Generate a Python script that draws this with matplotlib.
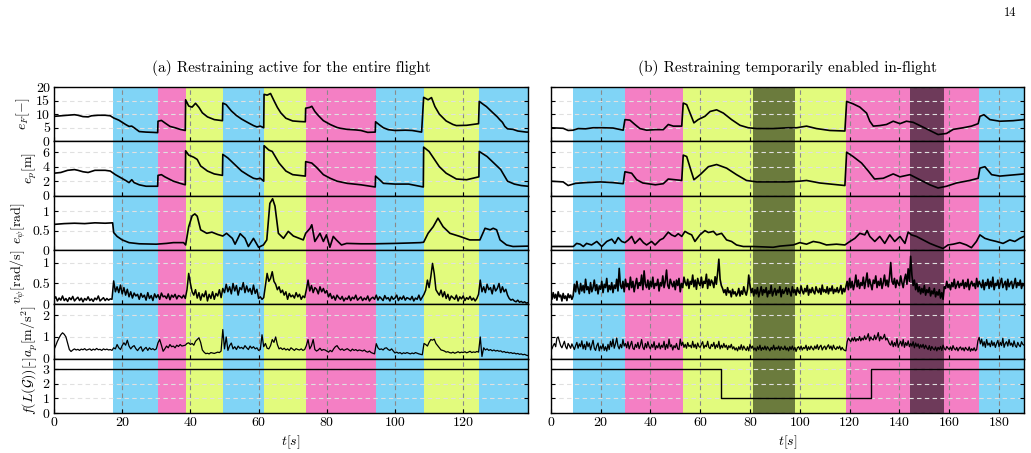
"""Restraining experiment: error, velocity and connectivity traces for two flights."""

import numpy as np
import matplotlib.pyplot as plt

plt.rcParams["font.family"] = "serif"
plt.rcParams["font.serif"] = ["cmr10"]
plt.rcParams["mathtext.fontset"] = "cm"
plt.rcParams["axes.formatter.use_mathtext"] = True
plt.rcParams["axes.unicode_minus"] = False

CYAN = "#80d4f6"
PINK = "#f47fc4"
YELLOW = "#e2fb7d"
OLIVE = "#6b7b3d"
PURPLE = "#6e3a5a"

# ---- flight (a) ------------------------------------------------------------
leftBandEdges = [0, 17.2, 30.5, 38.6, 49.5, 61.6, 73.8, 94.3, 108.4, 124.7, 139]
leftBandColors = ["white", CYAN, PINK, YELLOW, CYAN, YELLOW, PINK, CYAN, YELLOW, CYAN]

leftErrFT = [0, 2, 4, 6, 7, 8.5, 10, 11, 13, 15, 16.5, 17.5, 19, 20, 21, 22, 22.8, 23.5, 25, 27, 29, 30.4,
             30.5, 31.5, 32.5, 34, 35.5, 37, 38.5, 38.6, 39.5, 40.5, 41.5, 42.5, 43.5, 45, 47, 49.4,
             49.5, 50.5, 52, 53.5, 55, 57, 58.5, 59.5, 60.5, 61.5, 61.6, 62.5, 63.5, 64.5, 65.5, 66.5,
             68, 70, 72, 73.7, 73.8, 75, 75.6, 76.5, 77.5, 79, 81, 83, 84, 86, 88.5, 90, 92, 94.2, 94.3,
             95.5, 96.6, 98, 100, 103, 105, 107.8, 108.4, 109.7, 110.7, 111.7, 113, 115, 117, 118, 121,
             124.5, 124.7, 126, 126.8, 128.8, 130, 130.7, 131.5, 132.2, 133, 134.6, 136, 138.5, 139]
leftErrF = [9.2, 9.4, 9.6, 9.8, 9.6, 9.1, 9.0, 9.4, 9.6, 9.6, 9.4, 8.6, 7.8, 7.0, 6.2, 5.5, 5.6, 5.0, 3.6, 3.4,
            3.3, 3.2, 7.4, 7.7, 6.8, 5.5, 5.0, 4.4, 4.0, 15.3, 13.0, 12.6, 14.0, 12.5, 10.5, 9.0, 8.0, 7.6,
            14.1, 13.5, 11.2, 9.5, 8.2, 6.8, 5.8, 5.3, 5.6, 5.0, 17.3, 17.0, 17.6, 15.0, 12.5, 10.5, 8.5,
            7.5, 7.3, 7.2, 12.2, 12.5, 12.9, 11.0, 9.5, 7.6, 6.2, 5.1, 4.8, 4.4, 4.2, 4.0, 3.3, 3.4, 7.2,
            6.0, 5.0, 4.3, 4.0, 4.1, 4.0, 3.4, 16.2, 15.3, 16.1, 12.8, 10.0, 7.5, 6.2, 5.8, 5.9, 6.5, 14.7,
            13.5, 12.8, 10.4, 9.0, 8.0, 7.0, 5.5, 4.6, 4.4, 3.8, 3.4, 3.4]

leftErrPT = [0, 2, 4, 6, 7, 8.5, 10, 12, 15, 16.5, 18, 19.5, 21, 22, 22.8, 23.5, 25, 27, 30.4, 30.5, 31.5,
             32.5, 35, 37, 38.5, 38.6, 39.5, 41, 42, 43, 45, 47, 49.4, 49.5, 51, 53, 55, 57, 58.5, 59.5,
             60.5, 61.5, 61.6, 63, 64, 65, 66, 68, 70, 73.7, 73.8, 75.6, 77, 79, 81, 83, 86, 90, 94.2,
             94.3, 95.5, 96.6, 100, 104, 108.3, 108.4, 110, 111, 113, 115, 118, 121, 124.6, 124.7, 127,
             129, 131, 132.5, 133, 135, 137, 139]
leftErrP = [3.1, 3.2, 3.5, 3.6, 3.5, 3.3, 3.2, 3.5, 3.5, 3.4, 2.9, 2.5, 2.1, 1.8, 2.2, 1.8, 1.5, 1.3, 1.3,
            2.8, 2.9, 2.6, 2.0, 1.7, 1.5, 6.2, 5.6, 5.3, 5.0, 4.1, 3.4, 3.0, 2.8, 5.7, 5.2, 4.3, 3.4, 2.8,
            2.4, 2.3, 2.4, 2.0, 6.9, 6.3, 6.1, 5.3, 4.5, 3.4, 2.9, 2.7, 4.7, 4.5, 3.9, 2.9, 2.4, 2.0, 1.7,
            1.5, 1.2, 2.7, 2.2, 1.7, 1.6, 1.6, 1.2, 6.7, 6.1, 5.4, 4.0, 3.1, 2.3, 2.2, 2.6, 6.1, 5.4, 4.5,
            3.6, 2.4, 2.0, 1.6, 1.4, 1.3]

leftErrPsiT = [0, 3, 6, 9, 12, 15, 17.2, 17.5, 18.5, 20, 22, 25, 30, 33, 35, 38, 38.6, 39.5, 40.5, 41.3,
               42, 43, 44.8, 46.3, 48, 49.5, 50.6, 52.3, 53.1, 54.6, 56, 57, 58.5, 60, 61.4, 62.4, 63.3,
               64.1, 64.8, 65.8, 67.3, 68.7, 70.2, 73.1, 73.8, 75.1, 75.6, 76.5, 78, 79, 79.9, 80.9, 81.9,
               82.8, 84.3, 85.8, 90, 94, 100, 104, 107.4, 108.4, 109.7, 111.2, 112.6, 114.1, 116.1, 119,
               121.9, 124.9, 126.4, 127.9, 128.8, 129.8, 130.8, 132.7, 134.6, 139]
leftErrPsi = [0.66, 0.68, 0.69, 0.68, 0.70, 0.69, 0.70, 0.45, 0.35, 0.26, 0.19, 0.16, 0.15, 0.17, 0.19,
              0.19, 0.13, 0.60, 0.88, 0.93, 0.87, 0.52, 0.43, 0.46, 0.40, 0.36, 0.43, 0.30, 0.15, 0.42,
              0.30, 0.09, 0.30, 0.07, 0.13, 0.26, 1.20, 1.32, 1.13, 0.43, 0.30, 0.48, 0.36, 0.26, 0.43,
              0.56, 0.65, 0.22, 0.43, 0.22, 0.39, 0.07, 0.35, 0.26, 0.13, 0.17, 0.16, 0.16, 0.17, 0.18,
              0.19, 0.20, 0.43, 0.60, 0.82, 0.60, 0.43, 0.35, 0.26, 0.26, 0.56, 0.52, 0.56, 0.52, 0.26,
              0.13, 0.09, 0.10]

# sampled every 0.5 s
leftVelPsi = [.12, .18, .08, .15, .10, .20, .09, .14, .07, .16, .11, .19, .08, .13, .17, .09, .15, .06, .14, .10,
              .18, .09, .13, .07, .15, .11, .20, .08, .12, .16, .09, .14, .10, .13, .12, .56, .30, .42, .28, .46,
              .25, .40, .22, .36, .18, .30, .15, .27, .20, .24, .12, .26, .17, .22, .10, .28, .14, .21, .09, .25,
              .16, .23, .12, .27, .18, .20, .14, .25, .11, .22, .17, .24, .13, .21, .19, .15, .22, .14, .35, .74,
              .50, .30, .22, .35, .15, .28, .10, .25, .18, .32, .08, .24, .14, .30, .12, .26, .20, .35, .16, .38,
              .28, .48, .30, .42, .25, .50, .32, .45, .22, .40, .35, .52, .28, .44, .30, .38, .24, .46, .26, .36,
              .14, .18, .12, .16, .45, .74, .55, .62, .78, .55, .48, .35, .42, .28, .34, .22, .30, .12, .26, .18,
              .22, .15, .28, .18, .24, .12, .20, .16, .35, .58, .32, .45, .28, .40, .36, .25, .42, .30, .38, .27,
              .33, .18, .26, .14, .20, .10, .22, .16, .12, .19, .08, .15, .12, .20, .09, .17, .13, .22, .10, .14,
              .18, .09, .15, .11, .20, .08, .14, .17, .12, .22, .10, .18, .14, .09, .21, .13, .16, .08, .19, .12,
              .15, .22, .09, .17, .12, .20, .10, .16, .14, .11, .19, .08, .15, .12, .22, .10, .17, .24, .34, .58,
              .40, .66, .98, .74, .35, .28, .22, .34, .18, .30, .14, .24, .10, .20, .16, .12, .22, .08, .18, .13,
              .20, .09, .16, .12, .19, .10, .15, .08, .14, .24, .58, .30, .42, .28, .48, .35, .40, .25, .46, .32,
              .38, .50, .28, .42, .30, .36, .22, .14, .10, .12, .08, .06, .10, .05, .07, .04, .06, .03, .04]

leftAccP = [.42, .60, .80, .96, 1.10, 1.19, 1.12, 1.00, .70, .42, .33, .40, .45, .40, .43, .38, .44, .41, .46, .39,
            .42, .45, .38, .44, .40, .47, .41, .43, .38, .45, .41, .44, .40, .42, .38, .50, .45, .65, .50, .42,
            .60, .73, .62, .85, .58, .45, .55, .60, .46, .37, .48, .55, .34, .45, .52, .38, .50, .42, .46, .40,
            .45, .73, .88, .62, .34, .45, .58, .50, .65, .55, .58, .50, .62, .56, .65, .58, .60, .62, .70, .73,
            .65, .70, .62, .80, .88, .96, .75, .40, .30, .23, .25, .22, .28, .26, .24, .27, .30, .28, .35, 1.34,
            .45, 1.00, .38, .60, .72, .45, .55, .42, .58, .48, .52, .45, .60, .50, .42, .58, .48, .55, .45, .50,
            .38, .42, 1.10, .55, .70, .48, .45, .60, .88, .75, 1.00, .65, .45, .50, .42, .48, .40, .45, .38, .50,
            .44, .38, .46, .42, .40, .45, .38, .42, .60, .88, .45, .60, .88, .42, .35, .40, .48, .38, .42, .40,
            .35, .30, .38, .32, .45, .55, .60, .48, .40, .45, .38, .42, .46, .40, .35, .44, .38, .42, .36, .40,
            .38, .35, .40, .33, .30, .35, .28, .25, .22, .69, .50, .42, .45, .40, .48, .50, .42, .38, .45, .35,
            .26, .30, .25, .28, .22, .27, .24, .28, .25, .22, .26, .23, .28, .25, .22, .20, .18, .70, .65, .58,
            .75, .88, .85, .90, .70, .60, .50, .40, .38, .35, .30, .32, .28, .26, .30, .25, .28, .32, .27, .30,
            .28, .32, .27, .30, .34, .28, .31, .29, .33, .30, 1.00, .10, .50, .40, .45, .38, .42, .36, .40, .35,
            .38, .34, .36, .30, .33, .28, .30, .26, .28, .24, .26, .22, .24, .20, .22, .18, .20, .16, .14]

leftGraphT = [0, 139]
leftGraph = [3, 3]

# ---- flight (b) ------------------------------------------------------------
rightBandEdges = [0, 9.1, 29.7, 53.0, 81.1, 98.0, 118.7, 144.4, 157.8, 172.0, 190]
rightBandColors = ["white", CYAN, PINK, YELLOW, OLIVE, YELLOW, PINK, PURPLE, PINK, CYAN]

rightErrFT = [0, 5, 7, 9, 11, 14, 17, 21, 25, 29.1, 29.8, 31.8, 33.8, 35.8, 38.5, 42, 45.2, 47.2, 49.2, 52.6,
              53.2, 54.6, 56.2, 57.5, 59.2, 61.9, 64, 66.6, 69.3, 72.6, 76, 79.3, 82.7, 89.3, 95.4, 98.7,
              102.7, 106.7, 112, 118.1, 118.8, 121.4, 124.1, 126.8, 128.1, 129.5, 132.1, 134.8, 137.5, 140.2,
              142.8, 145.5, 148.2, 152.2, 155.5, 158.9, 161.6, 165.6, 168.9, 171.6, 172.3, 173.9, 176.3,
              180.3, 185.6, 190]
rightErrF = [5.0, 4.8, 4.0, 4.1, 4.7, 4.6, 5.0, 5.0, 4.9, 4.1, 8.0, 7.8, 6.2, 4.7, 4.1, 4.3, 4.3, 6.2, 5.6, 5.6,
             14.1, 13.5, 9.8, 6.8, 8.0, 9.2, 11.0, 11.6, 10.4, 8.0, 5.9, 5.0, 4.7, 4.7, 5.0, 5.0, 5.6, 4.7,
             4.0, 3.8, 14.7, 13.8, 12.6, 10.4, 7.4, 5.6, 5.8, 6.2, 7.4, 6.5, 7.4, 7.0, 5.8, 4.0, 2.5, 2.9,
             4.4, 5.0, 5.6, 6.5, 9.2, 9.8, 8.0, 7.4, 7.6, 8.0]

rightErrPT = [0, 5, 7, 10, 14, 20, 25, 29.1, 29.8, 32.5, 34.5, 37, 42, 45.2, 47.2, 52.6, 53.2, 54.6, 56.2, 57.5,
              60, 63.3, 66.6, 70.6, 74.6, 78.6, 82.7, 95, 100, 102.7, 108, 118.1, 118.8, 121.4, 124.8, 127.5,
              130, 133.5, 137.5, 140.2, 144.2, 148.2, 152.2, 155.5, 158.9, 162.9, 168.2, 171.6, 172.3, 174.3,
              177, 180.3, 190]
rightErrP = [2.0, 1.9, 1.4, 1.7, 1.8, 1.9, 1.8, 1.65, 3.3, 3.1, 2.2, 1.75, 1.5, 1.65, 2.3, 2.1, 5.6, 5.4, 3.6,
             2.2, 2.9, 4.0, 4.3, 3.8, 2.9, 2.1, 1.9, 1.9, 2.0, 2.1, 1.75, 1.4, 6.0, 5.4, 4.5, 3.4, 2.3, 2.4,
             3.0, 2.6, 2.9, 2.2, 1.5, 1.06, 1.3, 1.75, 2.1, 2.4, 3.8, 4.0, 2.9, 2.7, 3.0]

rightErrPsiT = [0, 9.1, 10.4, 11.8, 13.1, 14.4, 16.4, 18.5, 20.5, 22.5, 24.5, 25.8, 27.1, 28.5, 29.8, 31.2, 32.5,
                33.8, 35.8, 37.2, 38.5, 40.5, 41.9, 43.9, 45.2, 47.2, 48.5, 49.9, 51.2, 52.6, 53.9, 55.2, 56.6,
                57.9, 59.9, 61.9, 63.3, 65.3, 66.6, 68.6, 70.6, 72.6, 74.6, 77.3, 81.3, 89.3, 92, 97.4, 100,
                102.7, 105.4, 108, 110.7, 114.7, 118.1, 120.1, 122.1, 124.1, 126.1, 127, 128.1, 130.1, 132.1,
                134.1, 136.1, 138.1, 140.2, 142.2, 143.5, 144.8, 146.8, 149.5, 152.2, 154.9, 157.5, 159.5,
                161.6, 164.2, 166.9, 168.9, 170.9, 172.3, 174.3, 176.3, 178.9, 181.6, 184.3, 186.3, 188.3, 190]
rightErrPsi = [0.09, 0.09, 0.17, 0.15, 0.09, 0.17, 0.13, 0.22, 0.09, 0.22, 0.28, 0.17, 0.32, 0.22, 0.19, 0.26,
               0.35, 0.17, 0.30, 0.19, 0.13, 0.22, 0.13, 0.26, 0.30, 0.46, 0.39, 0.35, 0.42, 0.35, 0.48, 0.43,
               0.39, 0.22, 0.39, 0.50, 0.45, 0.48, 0.39, 0.43, 0.26, 0.22, 0.13, 0.09, 0.09, 0.07, 0.10, 0.13,
               0.19, 0.15, 0.22, 0.19, 0.13, 0.15, 0.13, 0.22, 0.30, 0.43, 0.39, 0.50, 0.35, 0.22, 0.35, 0.17,
               0.39, 0.22, 0.35, 0.17, 0.46, 0.39, 0.35, 0.26, 0.17, 0.10, 0.04, 0.13, 0.15, 0.19, 0.13, 0.06,
               0.22, 0.39, 0.30, 0.26, 0.22, 0.17, 0.26, 0.22, 0.30, 0.35]

# sampled every 0.5 s
rightVelPsi = [.20, .12, .28, .15, .24, .10, .30, .18, .22, .08, .26, .14, .20, .09, .25, .16, .22, .12, .20, .48,
               .30, .55, .38, .25, .50, .32, .45, .28, .60, .35, .42, .26, .52, .30, .40, .58, .33, .47, .25, .44,
               .36, .55, .28, .48, .40, .62, .30, .45, .35, .52, .28, .46, .38, .60, .32, .86, .45, .38, .55, .30,
               .60, .42, .50, .35, .65, .40, .55, .30, .48, .62, .38, .52, .45, .70, .35, .80, .48, .40, .58, .36,
               .55, .42, .65, .38, .50, .45, .60, .32, .52, .44, .68, .40, .55, .82, .45, .38, .60, .50, .42, .55,
               .35, .58, .45, .62, .30, .50, .40, .65, .52, .45, .60, .38, .55, .48, .70, .42, .58, .36, .62, .50,
               .45, .65, .40, .55, .50, .72, .38, .60, .45, .58, .52, .40, .66, .48, .75, 1.08, .60, .45, .38, .28,
               .35, .22, .40, .28, .32, .18, .36, .25, .30, .20, .26, .38, .20, .32, .24, .42, .30, .22, .35, .70,
               .45, .28, .38, .20, .35, .25, .40, .18, .30, .42, .22, .35, .28, .40, .18, .32, .26, .45, .20, .30,
               .38, .22, .34, .28, .42, .18, .35, .26, .32, .40, .24, .38, .30, .20, .42, .28, .35, .22, .40, .30,
               .26, .44, .32, .25, .38, .30, .45, .22, .36, .28, .40, .30, .25, .42, .33, .28, .38, .24, .46, .30,
               .35, .28, .42, .25, .38, .32, .44, .26, .36, .30, .40, .28, .34, .45, .25, .38, .30, .42, .55, .35,
               .62, .40, .55, .35, .48, .70, .42, .58, .38, .52, .45, .65, .38, .55, .75, .42, .60, .48, .35, .58,
               .50, .68, .40, .55, .45, .62, .38, .52, .70, .45, .58, .42, .65, 1.00, .55, .48, .62, .40, .58, .50,
               .45, .68, .52, .40, .60, .72, .48, .85, .55, 1.15, .70, .45, .58, .35, .50, .30, .42, .25, .38, .28,
               .45, .22, .35, .28, .40, .20, .32, .25, .38, .18, .30, .22, .35, .15, .28, .12, .42, .38, .55, .40,
               .48, .35, .52, .42, .60, .38, .46, .55, .40, .50, .45, .58, .38, .52, .42, .60, .35, .48, .55, .44,
               .50, .38, .62, .42, .55, .48, .40, .58, .35, .52, .45, .60, .38, .55, .42, .65, .35, .50, .45, .58,
               .38, .52, .62, .40, .48, .55, .35, .60, .42, .50, .55, .38, .48, .62, .40, .52, .45, .58, .38, .50,
               .45]

rightAccP = [.50, .45, .60, .70, .55, .95, 1.00, .80, .60, .50, .65, .80, .55, .45, .70, .60, .48, .68, .55, .42,
             .60, .75, .48, .68, .55, .82, .45, .66, .42, .78, .55, .72, .40, .62, .85, .48, .38, .60, .72, .36,
             .58, .45, .68, .38, .55, .35, .66, .42, .80, .55, .90, .48, .68, .95, .58, .45, .66, .50, .88, .58,
             .70, .50, .78, .45, .62, .80, .48, .42, .66, .52, .75, .46, .62, .88, .52, .42, .70, .50, .78, .56,
             .45, .66, .52, .78, .42, .60, .50, .72, .45, .62, .52, .80, .42, .66, .48, .90, .55, .64, .40, .60,
             .50, .70, .45, .42, .90, .60, .76, .52, .66, .48, .74, .56, .62, .50, .80, .52, .66, .46, .72, .56,
             .52, .66, .78, .48, .62, .55, .80, .52, .46, .66, .56, .75, .46, .64, .52, .80, .45, .62, .50, .70,
             .52, .62, .42, .60, .50, .66, .45, .55, .40, .50, .36, .55, .42, .64, .40, .58, .46, .38, .55, .36,
             .66, .48, .58, .40, .50, .36, .55, .42, .62, .38, .52, .42, .58, .40, .55, .46, .36, .52, .42, .62,
             .40, .52, .44, .58, .38, .55, .46, .42, .58, .40, .50, .36, .55, .42, .58, .40, .52, .33, .50, .55,
             .42, .58, .40, .52, .46, .62, .38, .55, .42, .58, .48, .40, .58, .46, .64, .42, .55, .62, .40, .52,
             .58, .42, .55, .64, .46, .58, .40, .62, .48, .42, .55, .46, .58, .40, .52, .42, .38, .36, .78, .95,
             .85, .78, .95, .82, .98, .80, .92, .84, 1.02, .82, .95, .86, 1.05, .88, .98, 1.15, .82, 1.00, .90, .86,
             1.08, .88, 1.00, 1.20, .82, 1.02, .90, .96, 1.12, .86, .95, .82, .68, .62, .82, .55, .74, .58, .92, .52,
             .68, .80, .58, .88, .52, .74, .60, .82, .55, .70, .58, .78, .50, .72, .56, .68, .48, .64, .52, .66,
             .46, .62, .50, .42, .60, .38, .56, .46, .40, .54, .36, .52, .42, .56, .38, .62, .46, .40, .56, .48,
             .42, .54, .38, .60, .46, .40, .52, .36, .48, .54, .40, .50, .36, .52, .44, .38, .54, .34, .46, .38,
             .50, .36, .42, .82, .98, .68, .90, .58, .78, .52, .88, .62, .72, .55, .82, .60, .75, .52, .70, .84,
             .55, .75, .60, .94, .52, .70, .78, .58, .88, .62, .72, .55, .82, .60, .52, .75, .62, .55, .78, .66,
             .62]

rightGraphT = [0, 68.5, 128.4, 190]
rightGraph = [3, 1, 3, 3]

# ---- layout ------------------------------------------------------------------
yLabels = [r"$e_F[-]$", r"$e_p[\mathrm{m}]$", r"$e_\psi[\mathrm{rad}]$", r"$v_\psi[\mathrm{rad/s}]$",
           r"$a_p[\mathrm{m/s^2}]$", r"$f(L(\mathcal{G}))$[-]"]
yLimits = [20, 7.5, 1.4, 1.3, 2.5, 3.7]
yTicks = [[0, 5, 10, 15, 20], [0, 2, 4, 6], [0, 0.5, 1], [0, 0.5, 1], [0, 1, 2], [0, 1, 2, 3]]
yTickLabels = [["0", "5", "10", "15", "20"], ["0", "2", "4", "6"], ["0", "0.5", "1"], ["0", "0.5", "1"],
               ["0", "1", "2"], ["0", "1", "2", "3"]]

fig = plt.figure(figsize=(10.31, 4.53), dpi=100)

BOTTOM = 1 - 413 / 453
ROWH = (326 / 6) / 453


def drawPanel(x0, width, xMax, xTicks, edges, colors, series, showYLabels):
    for row in range(6):
        ax = fig.add_axes([x0, BOTTOM + (5 - row) * ROWH, width, ROWH])
        for i in range(len(colors)):
            if colors[i] != "white":
                ax.axvspan(edges[i], edges[i + 1], color=colors[i], lw=0, zorder=-1)
        ax.set_xlim(0, xMax)
        ax.set_ylim(0, yLimits[row])
        ax.set_xticks(xTicks)
        ax.set_yticks(yTicks[row])
        ax.set_axisbelow(True)
        ax.grid(axis="x", color="#8a8a8a", ls=(0, (4, 3)), lw=0.8)
        ax.grid(axis="y", color="#e0e0e0", ls=(0, (4, 3)), lw=0.8)
        ax.tick_params(direction="in", length=3, right=True, labelsize=10, pad=3)
        for spine in ax.spines.values():
            spine.set_linewidth(1.0)

        t, v, lw, step = series[row]
        ax.plot(t, v, color="k", lw=lw, drawstyle="steps-post" if step else "default", zorder=3)

        if showYLabels:
            ax.set_yticklabels(yTickLabels[row])
            ax.set_ylabel(yLabels[row], fontsize=10, labelpad=3)
        else:
            ax.set_yticklabels([])
        if row < 5:
            ax.set_xticklabels([])
        else:
            ax.set_xticklabels([str(x) for x in xTicks])


def halfSecond(values):
    return np.arange(len(values)) * 0.5


leftSeries = [(leftErrFT, leftErrF, 1.2, False), (leftErrPT, leftErrP, 1.2, False),
              (leftErrPsiT, leftErrPsi, 1.2, False), (halfSecond(leftVelPsi), leftVelPsi, 1.1, False),
              (halfSecond(leftAccP), leftAccP, 0.9, False), (leftGraphT, leftGraph, 1.0, True)]
rightSeries = [(rightErrFT, rightErrF, 1.2, False), (rightErrPT, rightErrP, 1.2, False),
               (rightErrPsiT, rightErrPsi, 1.2, False), (halfSecond(rightVelPsi), rightVelPsi, 1.2, False),
               (halfSecond(rightAccP), rightAccP, 0.9, False), (rightGraphT, rightGraph, 1.0, True)]

leftX0, leftW = 54 / 1031, (528 - 54) / 1031
rightX0, rightW = 550.7 / 1031, (1024 - 550.7) / 1031

drawPanel(leftX0, leftW, 139, list(range(0, 140, 20)), leftBandEdges, leftBandColors, leftSeries, True)
drawPanel(rightX0, rightW, 190, list(range(0, 190, 20)), rightBandEdges, rightBandColors, rightSeries, False)

fig.text(leftX0 + leftW / 2, 1 - 68 / 453, "(a) Restraining active for the entire flight",
         ha="center", va="center", fontsize=11)
fig.text(rightX0 + rightW / 2, 1 - 68 / 453, "(b) Restraining temporarily enabled in-flight",
         ha="center", va="center", fontsize=11)
fig.text(leftX0 + leftW / 2, 1 - 442 / 453, r"$t[s]$", ha="center", va="center", fontsize=10)
fig.text(rightX0 + rightW / 2, 1 - 442 / 453, r"$t[s]$", ha="center", va="center", fontsize=10)
fig.text(1 - 21 / 1031, 1 - 13 / 453, "14", ha="center", va="center", fontsize=9)

fig.savefig("out.png", dpi=100)
